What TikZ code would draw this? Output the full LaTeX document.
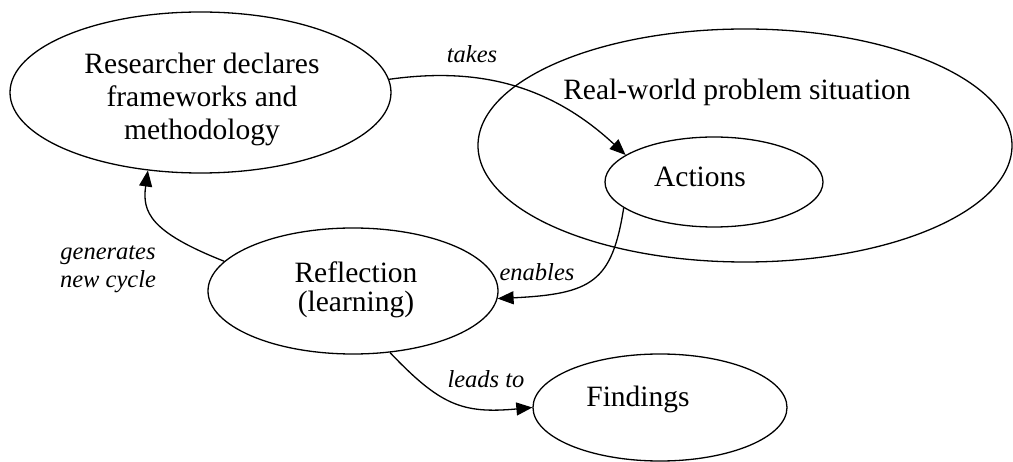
\documentclass[tikz,border=0pt]{standalone}
\usepackage{fontspec}
\setmainfont{Liberation Serif}
\usetikzlibrary{shapes.geometric,arrows.meta}
\begin{document}
\begin{tikzpicture}[x=1pt,y=-1pt,
  oval/.style={draw,ellipse,line width=1.3pt,inner sep=0pt},
  main/.style={font=\fontsize{29.5}{33}\selectfont,inner sep=0pt,align=center},
  lbl/.style={font=\fontsize{24.5}{28}\selectfont\itshape,inner sep=0pt,align=center},
  conn/.style={line width=1.3pt,-{Triangle[length=16pt,width=13pt]}}]
\useasboundingbox (0,0) rectangle (1013,462);
% ellipses
\node[oval,minimum width=381pt,minimum height=161pt] (res) at (200.5,92.5) {};
\node[oval,minimum width=534pt,minimum height=233pt] (rw) at (745,145.5) {};
\node[oval,minimum width=218pt,minimum height=90pt] (act) at (714,182) {};
\node[oval,minimum width=290pt,minimum height=126pt] (ref) at (353,291) {};
\node[oval,minimum width=254pt,minimum height=107pt] (fin) at (660,407.5) {};
% texts
\begin{scope}
\clip (0,0) rectangle (1013,147);
\node[main,anchor=base] (restext) at (202,140) {Researcher declares\\frameworks and\\methodology};
\end{scope}
\node[main,anchor=base] (rwtext) at (737,100) {Real-world problem situation};
\node[main,anchor=base] (acttext) at (700,187) {Actions};
\node[main,anchor=base,font=\fontsize{29.5}{29}\selectfont] (reftext) at (356,312) {Reflection\\(learning)};
\node[main,anchor=base] (fintext) at (638,407) {Findings};
% labels
\node[lbl,anchor=base] (ltakes) at (472,63) {takes};
\node[lbl,anchor=base] (lgen) at (108,288) {generates\\new cycle};
\node[lbl,anchor=base] (lenab) at (537,281) {enables};
\node[lbl,anchor=base] (lleads) at (486,388) {leads to};
% connectors
\draw[conn] (res.4) .. controls (470,68) and (545,80) .. (act.163);
\draw[conn] (act.196) .. controls (612,282) and (592,294) .. (ref.-3);
\draw[conn] (ref.167.5) .. controls (150,232) and (142,212) .. (res.236);
\draw[conn] (ref.-59) .. controls (440,405) and (462,414) .. (fin.180);
\end{tikzpicture}
\end{document}
